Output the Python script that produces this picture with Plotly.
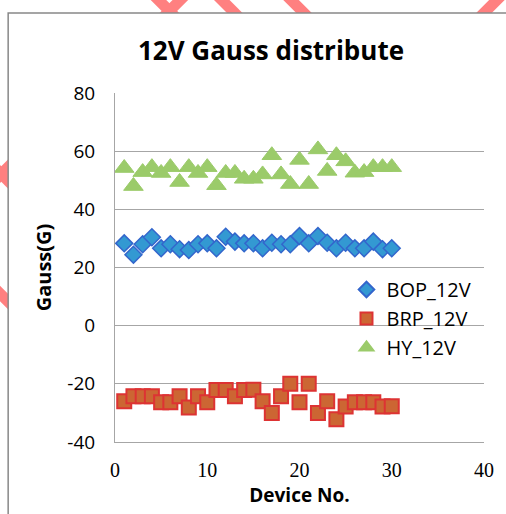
import plotly.graph_objects as go

devices = list(range(1, 31))
bop_12v = [28.3, 24.4, 28.0, 30.4, 26.6, 28.0, 26.3, 26.0, 28.0, 28.3,
           26.6, 30.6, 28.9, 28.3, 28.3, 26.6, 28.5, 28.0, 28.0, 30.8,
           28.3, 30.8, 28.5, 26.6, 28.5, 26.6, 26.6, 28.9, 26.3, 26.6]
brp_12v = [-26.0, -24.3, -24.3, -24.3, -26.3, -26.3, -24.3, -28.1, -24.3, -26.3,
           -22.1, -22.1, -24.3, -22.1, -22.0, -26.0, -30.0, -24.3, -20.0, -26.3,
           -20.0, -30.0, -26.0, -32.2, -27.8, -26.3, -26.3, -26.3, -27.8, -27.7]
hy_12v = [54.2, 48.0, 52.8, 54.5, 52.5, 54.5, 49.4, 54.5, 52.5, 54.5,
          48.3, 52.5, 52.5, 50.5, 50.5, 52.0, 58.6, 52.0, 48.7, 57.0,
          48.7, 60.6, 53.2, 58.6, 56.5, 52.6, 52.8, 54.5, 54.5, 54.5]

y_tick_vals = [-40, -20, 0, 20, 40, 60, 80]
y_tick_text = ["-40", "-20", "0", "20", "40", "60", "80"]
x_tick_vals = [0, 10, 20, 30, 40]
x_tick_text = ["0", "10", "20", "30", "40"]

title_text = "12V Gauss distribute"
x_title = "Device No."
y_title = "Gauss(G)"

W, H = 506, 514
ML, MR, MT, MB = 115, 18, 93, 68
PW, PH = W - ML - MR, H - MT - MB


def xp(px):
    return (px - ML) / PW


def yp(py):
    return (H - MB - py) / PH


fig = go.Figure()
fig.add_trace(go.Scatter(
    x=devices, y=bop_12v, mode="markers", name="BOP_12V",
    marker=dict(symbol="diamond", size=13, color="#3399D2",
                line=dict(color="#3366CC", width=1.5))))
fig.add_trace(go.Scatter(
    x=devices, y=brp_12v, mode="markers", name="BRP_12V",
    marker=dict(symbol="square", size=14, color="#CC6633",
                line=dict(color="#DD3333", width=2))))
fig.add_trace(go.Scatter(
    x=devices, y=hy_12v, mode="markers", name="HY_12V",
    marker=dict(symbol="triangle-up", size=17, color="#9BCB6A",
                line=dict(color="#9BCB6A", width=1))))

stripe = "#FF8080"
shapes = []
segs = [
    ((148, -12), (192, 32)), ((150, 30), (188, -8)),
    ((212, -12), (256, 32)), ((280, -14), (330, 36)),
    ((465, 35), (515, -15)),
    ((-25, 150), (25, 200)), ((-25, 200), (25, 150)),
    ((-25, 272), (25, 322)),
]
for (x0, y0), (x1, y1) in segs:
    shapes.append(dict(type="line", xref="paper", yref="paper",
                       x0=xp(x0), y0=yp(y0), x1=xp(x1), y1=yp(y1),
                       line=dict(color=stripe, width=11), layer="below"))
shapes.append(dict(type="rect", xref="paper", yref="paper",
                   x0=xp(7), y0=yp(12), x1=xp(600), y1=yp(560),
                   fillcolor="white", line=dict(color="#888888", width=1.5),
                   layer="below"))

fig.update_layout(
    width=W, height=H,
    margin=dict(l=ML, r=MR, t=MT, b=MB),
    paper_bgcolor="white", plot_bgcolor="white",
    font=dict(family="Open Sans", color="#000000"),
    title=dict(text=title_text, xref="container", yref="container",
               x=271 / W, y=1 - 51 / H, xanchor="center", yanchor="middle",
               font=dict(family="Open Sans", size=26, color="#000000", weight="bold")),
    showlegend=True,
    legend=dict(x=xp(349), y=yp(272), xanchor="left", yanchor="top",
                bgcolor="rgba(0,0,0,0)", font=dict(family="Open Sans", size=20),
                itemsizing="constant"),
    shapes=shapes,
)
fig.update_xaxes(range=[0, 40], tickvals=x_tick_vals, ticktext=x_tick_text,
                 showgrid=False, zeroline=False,
                 showline=True, linecolor="#A6A6A6", linewidth=1, ticks="",
                 ticklabelstandoff=10,
                 tickfont=dict(family="Liberation Serif", size=20, color="#000000"),
                 title=dict(text=x_title, standoff=8,
                            font=dict(family="Open Sans", size=19, weight="bold")))
fig.update_yaxes(range=[-40, 80], tickvals=y_tick_vals, ticktext=y_tick_text,
                 showgrid=True, gridcolor="#A6A6A6",
                 gridwidth=1, zeroline=False, showline=True, linecolor="#A6A6A6",
                 linewidth=1, ticks="", ticklabelstandoff=15,
                 tickfont=dict(family="Open Sans", size=19, color="#000000"),
                 title=dict(text=y_title, standoff=10,
                            font=dict(family="Open Sans", size=20, weight="bold")))

fig.write_html("out.html")
